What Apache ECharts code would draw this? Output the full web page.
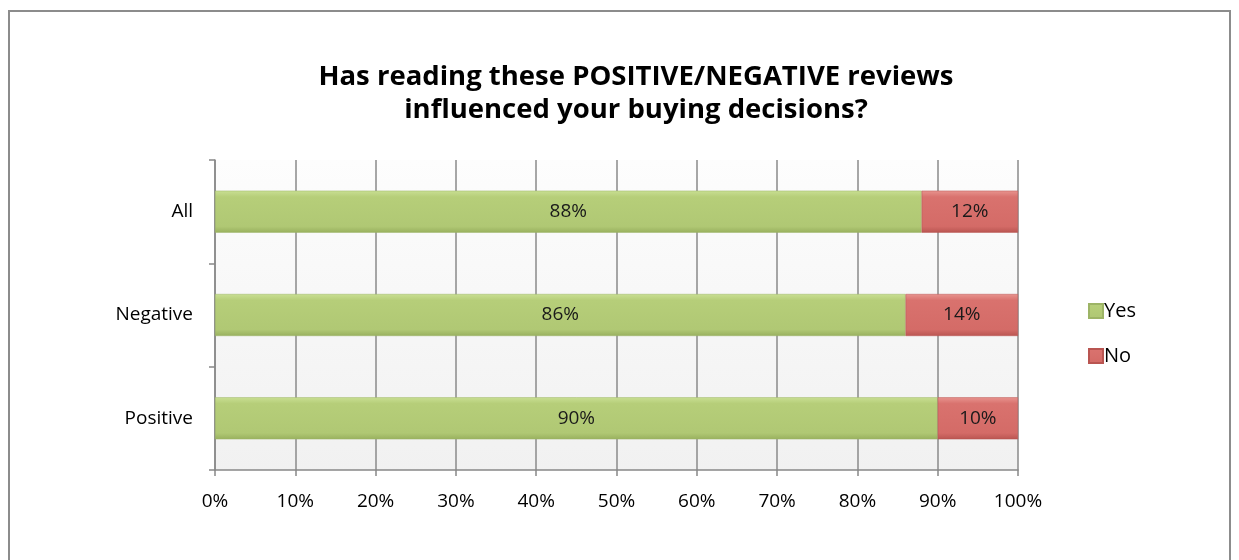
<!DOCTYPE html>
<html><head><meta charset="utf-8">
<script src="https://cdn.jsdelivr.net/npm/echarts@6/dist/echarts.min.js"></script>
<style>html,body{margin:0;padding:0;background:#fff}#c{width:1239px;height:560px}</style>
</head><body><div id="c"></div>
<script>
const categories = ['Positive', 'Negative', 'All'];
const yesValues = [90, 86, 88];
const noValues = [10, 14, 12];
const xTicks = [0, 10, 20, 30, 40, 50, 60, 70, 80, 90, 100];

const chart = echarts.init(document.getElementById('c'));
const font = '"Open Sans", "DejaVu Sans", sans-serif';
chart.setOption({
  animation: false,
  graphic: [{
    type: 'rect', shape: {x: 9, y: 11, width: 1221, height: 560},
    style: {fill: 'none', stroke: '#8c8c8c', lineWidth: 2}, z: -1
  }],
  title: {
    text: 'Has reading these POSITIVE/NEGATIVE reviews\ninfluenced your buying decisions?',
    left: 631, top: 56, textAlign: 'center',
    textStyle: {fontFamily: font, fontSize: 27.5, fontWeight: 'bold', color: '#000', lineHeight: 33}
  },
  legend: {
    orient: 'vertical', left: 1083, top: 296, itemGap: 25,
    itemWidth: 14, itemHeight: 14, icon: 'rect',
    textStyle: {fontFamily: font, fontSize: 20, color: '#000', padding: [0, 0, 0, -4]},
    data: ['Yes', 'No']
  },
  grid: {left: 215, right: 221, top: 160, bottom: 90, containLabel: false, show: true, borderWidth: 0,
    backgroundColor: new echarts.graphic.LinearGradient(0, 0, 0, 1, [{offset: 0, color: '#fdfdfd'}, {offset: 1, color: '#f1f1f1'}])},
  xAxis: {
    type: 'value', min: 0, max: 100, interval: 10,
    axisLine: {show: true, lineStyle: {color: '#888', width: 1.5}},
    axisTick: {show: true, length: 6, lineStyle: {color: '#888', width: 1.5}},
    axisLabel: {formatter: v => xTicks.includes(v) ? v + '%' : '', fontFamily: font, fontSize: 19, color: '#000', margin: 22},
    splitLine: {show: true, lineStyle: {color: '#8a8a8a', width: 1.5}}
  },
  yAxis: {
    type: 'category', data: categories,
    axisLine: {show: true, lineStyle: {color: '#888', width: 1.5}},
    axisTick: {show: true, length: 6, inside: false, lineStyle: {color: '#888', width: 1.5}},
    axisLabel: {fontFamily: font, fontSize: 19, color: '#000', margin: 22},
    splitArea: {show: false}
  },
  series: [{
    name: 'Yes', type: 'bar', stack: 't', data: yesValues, barWidth: 42,
    itemStyle: {color: new echarts.graphic.LinearGradient(0, 0, 0, 1, [
      {offset: 0, color: '#c9df93'}, {offset: 0.15, color: '#b6ce79'}, {offset: 0.85, color: '#b0c874'}, {offset: 1, color: '#98b05e'}]),
      borderColor: '#9db466', borderWidth: 0.5},
    label: {show: true, position: 'inside', formatter: '{c}%', fontFamily: font, fontSize: 19, color: '#1a1a1a'}
  }, {
    name: 'No', type: 'bar', stack: 't', data: noValues, barWidth: 42,
    itemStyle: {color: new echarts.graphic.LinearGradient(0, 0, 0, 1, [
      {offset: 0, color: '#e8948f'}, {offset: 0.15, color: '#d9726e'}, {offset: 0.85, color: '#d46b67'}, {offset: 1, color: '#b95551'}]),
      borderColor: '#b95551', borderWidth: 0.5},
    label: {show: true, position: 'inside', formatter: '{c}%', fontFamily: font, fontSize: 19, color: '#1a1a1a'}
  }]
});
</script></body></html>
